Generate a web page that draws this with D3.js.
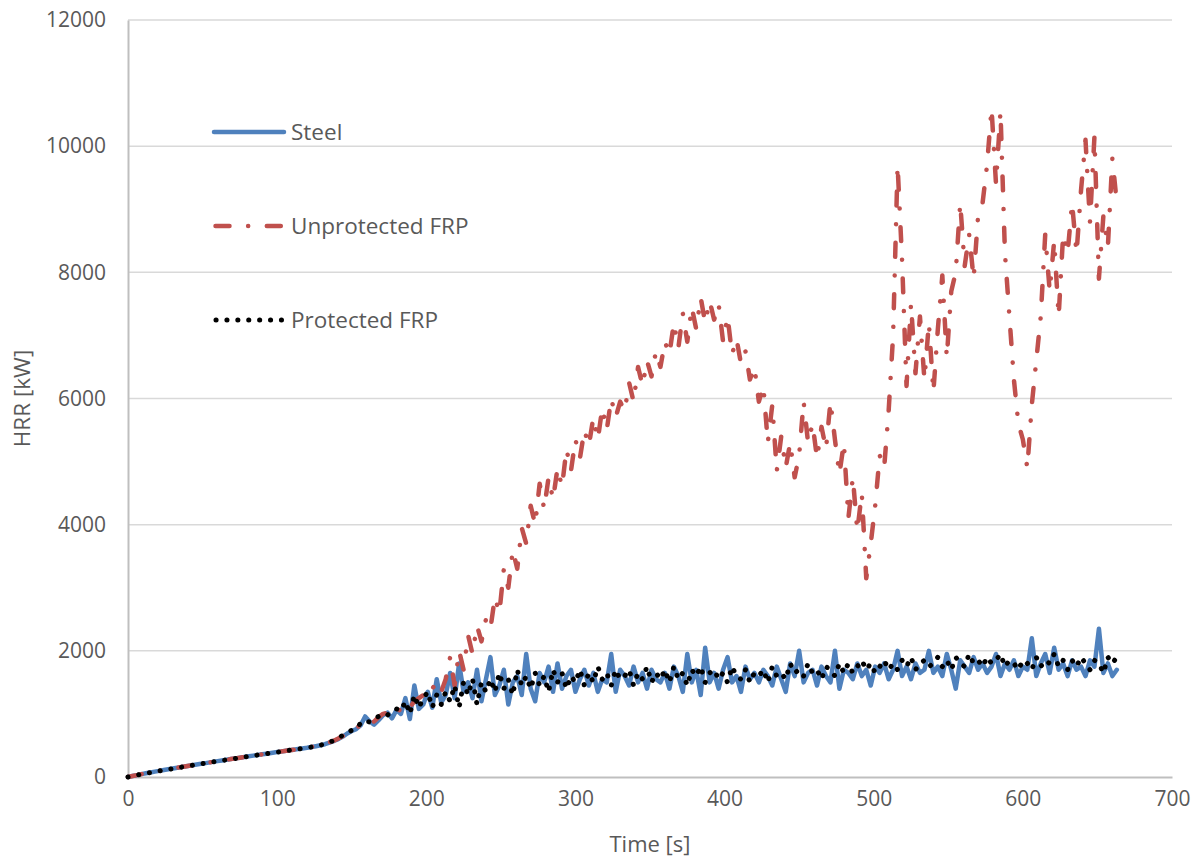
<!DOCTYPE html>
<html>
<head>
<meta charset="utf-8">
<script src="https://cdn.jsdelivr.net/npm/d3@7"></script>
<style>
  html, body { margin: 0; padding: 0; background: #fff; }
  text { font-family: "Open Sans", "Noto Sans", sans-serif; fill: #595959; }
</style>
</head>
<body>
<svg id="chart" width="1202" height="861"></svg>
<script>
const timeStep = 3; // seconds between samples
const seriesNames = ["Steel", "Unprotected FRP", "Protected FRP"];
const xTicks = [0, 100, 200, 300, 400, 500, 600, 700];
const yTicks = [0, 2000, 4000, 6000, 8000, 10000, 12000];

const steel = [
  0,15,30,45,60,72,85,97,110,122,135,147,158,170,182,193,205,216,228,240,252,
  262,273,284,295,306,317,328,339,350,360,370,381,392,402,412,423,433,443,453,463,
  475,488,502,520,545,570,600,640,690,730,
  760,820,960,880,830,900,980,1020,930,1060,
  1000,1250,920,1450,1080,1150,1350,1100,1550,1180,
  1300,1650,1250,1800,1350,1500,1250,1700,1200,1550,
  1900,1300,1450,1700,1150,1500,1600,1300,1950,1400,
  1200,1650,1500,1750,1350,1800,1400,1600,1700,1350,
  1550,1700,1450,1650,1350,1550,1500,1950,1350,1700,
  1600,1450,1750,1500,1650,1400,1700,1550,1500,1650,
  1400,1750,1600,1350,1950,1500,1700,1300,2050,1500,
  1650,1400,1700,1900,1500,1600,1350,1750,1550,1650,
  1500,1700,1600,1450,1750,1550,1350,1800,1600,2000,
  1500,1650,1700,1450,1750,1600,1500,2000,1400,1700,
  1650,1550,1800,1600,1700,1450,1750,1650,1800,1550,
  1700,2000,1600,1750,1550,1800,1650,1700,2000,1650,
  1750,1600,1950,1700,1400,1850,1750,1650,1900,1700,
  1800,1650,1750,1950,1600,1800,1700,1850,1600,1750,
  1700,2200,1600,1800,1950,1650,2050,1700,1800,1600,
  1850,1700,1750,1600,1850,1750,2350,1650,1800,1600,
  1700
];

const unprotectedFRP = [
  0,15,30,45,59,72,85,97,110,122,134,146,158,170,181,193,205,216,228,240,251,
  262,273,284,295,306,317,328,339,350,360,370,381,392,402,412,423,433,443,453,463,
  476,490,505,525,550,575,610,650,700,740,
  770,830,900,860,880,950,1000,1020,980,1080,
  1050,1150,1100,1200,1250,1300,1250,1400,1500,1350,
  1550,1900,1450,2000,1700,2250,1950,2400,2150,2500,
  2350,2850,2600,3300,3000,3600,3300,3950,3700,4300,
  4000,4650,4250,4750,4400,4900,4600,5200,4850,5350,
  5050,5500,5250,5700,5350,5850,5500,6000,5700,5950,
  5800,6250,5950,6500,6200,6600,6350,6750,6500,6900,
  6700,7200,6800,7350,6900,7450,7100,7600,7200,7550,
  7250,7500,6900,7300,6700,6950,6550,6750,6300,6500,
  5950,6200,5300,5900,4850,5400,4900,5300,4750,5100,
  5950,5300,5600,5050,5550,5200,5950,5350,4800,5300,
  4100,4750,3900,4500,3150,3700,4300,5100,4900,5800,
  7000,9700,8200,6200,7500,6400,7300,6300,7200,6100,
  7100,7950,6650,7700,8000,9100,8100,8600,7900,8900,
  9100,9700,10600,9400,10550,8300,7300,6300,5600,5350,
  4900,5900,6600,7300,8600,7700,8500,7300,8600,8300,
  9100,8300,9300,10100,8800,10150,7900,8900,8400,9800,
  9100
];

const protectedFRP = [
  0,14,29,44,58,71,84,96,109,121,133,145,157,169,181,192,204,215,227,239,250,
  261,272,283,294,305,316,327,338,349,359,369,380,391,401,411,422,432,442,452,462,
  475,490,505,525,550,580,620,660,700,740,
  780,850,900,870,920,960,1000,980,1050,1080,
  1050,1200,1000,1300,1100,1250,1350,1100,1300,1150,
  1350,1200,1450,1100,1500,1300,1550,1150,1500,1350,
  1550,1350,1650,1400,1550,1300,1700,1450,1600,1400,
  1650,1450,1600,1350,1700,1500,1650,1400,1600,1500,
  1700,1450,1650,1500,1750,1550,1650,1450,1700,1550,
  1600,1700,1450,1650,1550,1750,1500,1650,1550,1700,
  1500,1750,1550,1650,1450,1700,1600,1750,1500,1650,
  1700,1550,1650,1500,1750,1600,1550,1700,1500,1650,
  1600,1700,1500,1750,1600,1650,1550,1800,1650,1700,
  1600,1800,1650,1700,1550,1750,1700,1600,1800,1650,
  1800,1650,1750,1850,1700,1800,1650,1750,1850,1700,
  1800,1700,1850,1750,1900,1700,1800,1850,1750,1800,
  1900,1750,1850,1700,1900,1800,1750,1950,1800,1850,
  1750,1900,1800,1850,1950,1750,1850,1800,1700,1850,
  1800,1700,1900,1750,1850,1800,1950,1750,1850,1700,
  1850,1750,1900,1800,1700,1850,1800,1650,1900,1800,
  1900
];

// ---- layout ----
const W = 1202, H = 861;
const plot = { left: 128, right: 1172, top: 20, bottom: 777 };

const svg = d3.select("#chart");
svg.append("rect").attr("width", W).attr("height", H).attr("fill", "#fff");

const x = d3.scaleLinear().domain([0, 700]).range([plot.left, plot.right]);
const y = d3.scaleLinear().domain([0, 12000]).range([plot.bottom, plot.top]);

// gridlines
svg.append("g")
  .selectAll("line").data(yTicks.filter(d => d > 0)).join("line")
  .attr("x1", plot.left).attr("x2", plot.right)
  .attr("y1", d => y(d)).attr("y2", d => y(d))
  .attr("stroke", "#d9d9d9").attr("stroke-width", 1.5);

// axes
const xAxis = d3.axisBottom(x).tickValues(xTicks).tickSize(0).tickPadding(14)
  .tickFormat(d3.format("d"));
const gx = svg.append("g").attr("transform", `translate(0,${plot.bottom})`).call(xAxis);
gx.select(".domain").attr("stroke", "#bfbfbf").attr("stroke-width", 2);
gx.selectAll("text").attr("font-size", 21).attr("fill", "#595959")
  .style("font-family", "'Open Sans', sans-serif");

const yAxis = d3.axisLeft(y).tickValues(yTicks).tickSize(0).tickPadding(22)
  .tickFormat(d3.format("d"));
const gy = svg.append("g").attr("transform", `translate(${plot.left},0)`).call(yAxis);
gy.select(".domain").attr("stroke", "#bfbfbf").attr("stroke-width", 2);
gy.selectAll("text").attr("font-size", 21).attr("fill", "#595959")
  .style("font-family", "'Open Sans', sans-serif");

// axis titles
svg.append("text").attr("x", (plot.left + plot.right) / 2).attr("y", 852)
  .attr("text-anchor", "middle").attr("font-size", 22).text("Time [s]");
svg.append("text").attr("transform", `translate(30,${(plot.top + plot.bottom) / 2}) rotate(-90)`)
  .attr("text-anchor", "middle").attr("font-size", 22.5).text("HRR [kW]");

// series
const styles = [
  { data: steel, color: "#4f81bd", width: 4.5, dash: null },
  { data: unprotectedFRP, color: "#c0504d", width: 4.5, dash: "14,18.6,0.1,18.6" },
  { data: protectedFRP, color: "#000000", width: 5, dash: "0.1,10.8" }
];

const line = d3.line().x(d => x(d[0])).y(d => y(d[1]));

styles.forEach(s => {
  const pts = s.data.map((v, i) => [i * timeStep, v]);
  const p = svg.append("path").datum(pts)
    .attr("d", line)
    .attr("fill", "none")
    .attr("stroke", s.color)
    .attr("stroke-width", s.width)
    .attr("stroke-linecap", "round")
    .attr("stroke-linejoin", "round");
  if (s.dash) p.attr("stroke-dasharray", s.dash);
});

// legend
const legendY = [132, 226, 320];
const legendX = [[214, 284], [215.5, 282], [216, 281.5]];
const lg = svg.append("g");
styles.forEach((s, i) => {
  const l = lg.append("line")
    .attr("x1", legendX[i][0]).attr("x2", legendX[i][1])
    .attr("y1", legendY[i]).attr("y2", legendY[i])
    .attr("stroke", s.color).attr("stroke-width", s.width)
    .attr("stroke-linecap", "round");
  if (s.dash) l.attr("stroke-dasharray", s.dash);
  lg.append("text").attr("x", 291).attr("y", legendY[i]).attr("dy", "0.35em")
    .attr("font-size", 22.5).text(seriesNames[i]);
});
</script>
</body>
</html>
